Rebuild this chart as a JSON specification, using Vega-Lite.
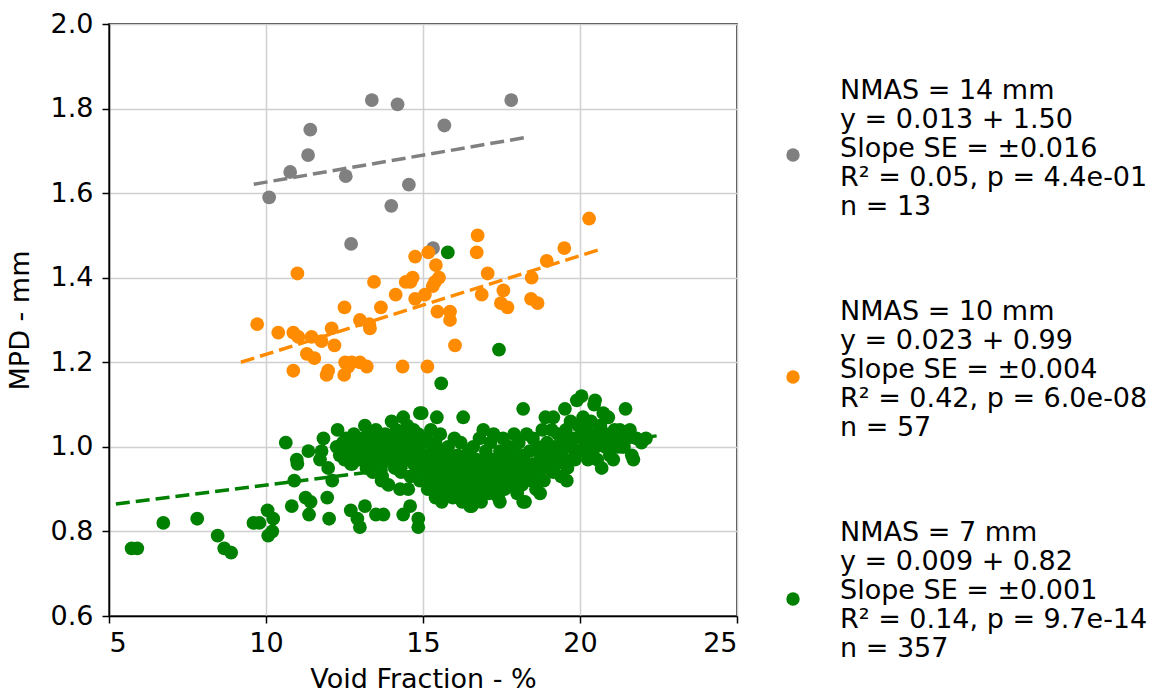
{
  "$schema": "https://vega.github.io/schema/vega-lite/v6.json",
  "width": 628,
  "height": 592,
  "autosize": {"type": "none"},
  "padding": {"left": 109, "top": 24, "right": 414, "bottom": 77},
  "background": "white",
  "config": {
    "font": "DejaVu Sans",
    "view": {"stroke": "black", "strokeWidth": 1.5},
    "axis": {
      "labelFont": "DejaVu Sans", "labelFontSize": 27, "labelColor": "black",
      "titleFont": "DejaVu Sans", "titleFontSize": 27, "titleFontWeight": "normal", "titleColor": "black",
      "tickColor": "black", "tickSize": 7, "tickWidth": 1.5,
      "domainColor": "black", "domainWidth": 1.5,
      "gridColor": "#d0d0d0", "gridWidth": 1.5
    },
    "legend": {"labelFont": "DejaVu Sans", "labelFontSize": 27, "labelColor": "black"}
  },
  "datasets": {
    "pts": [
      {"g":"14","x":10.10,"y":1.59},{"g":"14","x":10.77,"y":1.65},{"g":"14","x":11.34,"y":1.69},{"g":"14","x":11.41,"y":1.75},{"g":"14","x":12.54,"y":1.64},{"g":"14","x":13.37,"y":1.82},{"g":"14","x":14.19,"y":1.81},{"g":"14","x":12.71,"y":1.48},{"g":"14","x":13.99,"y":1.57},{"g":"14","x":14.55,"y":1.62},{"g":"14","x":15.68,"y":1.76},{"g":"14","x":17.81,"y":1.82},{"g":"14","x":15.32,"y":1.47},
      {"g":"10","x":11.00,"y":1.41},{"g":"10","x":9.72,"y":1.29},{"g":"10","x":10.39,"y":1.27},{"g":"10","x":10.87,"y":1.27},{"g":"10","x":11.03,"y":1.26},{"g":"10","x":11.45,"y":1.26},{"g":"10","x":11.77,"y":1.25},{"g":"10","x":12.09,"y":1.28},{"g":"10","x":12.18,"y":1.24},{"g":"10","x":11.30,"y":1.22},{"g":"10","x":11.54,"y":1.21},{"g":"10","x":10.87,"y":1.18},{"g":"10","x":11.98,"y":1.18},{"g":"10","x":11.93,"y":1.17},{"g":"10","x":12.50,"y":1.33},{"g":"10","x":12.99,"y":1.30},{"g":"10","x":13.29,"y":1.29},{"g":"10","x":13.31,"y":1.28},{"g":"10","x":12.52,"y":1.20},{"g":"10","x":12.73,"y":1.20},{"g":"10","x":12.99,"y":1.20},{"g":"10","x":13.21,"y":1.19},{"g":"10","x":12.49,"y":1.17},{"g":"10","x":13.44,"y":1.39},{"g":"10","x":13.66,"y":1.33},{"g":"10","x":14.13,"y":1.36},{"g":"10","x":14.45,"y":1.39},{"g":"10","x":14.67,"y":1.40},{"g":"10","x":14.75,"y":1.45},{"g":"10","x":14.75,"y":1.35},{"g":"10","x":14.35,"y":1.19},
      {"g":"10","x":20.29,"y":1.54},{"g":"10","x":16.74,"y":1.50},{"g":"10","x":16.71,"y":1.46},{"g":"10","x":15.17,"y":1.46},{"g":"10","x":15.41,"y":1.43},{"g":"10","x":15.51,"y":1.40},{"g":"10","x":15.31,"y":1.38},{"g":"10","x":15.06,"y":1.36},{"g":"10","x":15.46,"y":1.32},{"g":"10","x":15.86,"y":1.32},{"g":"10","x":15.86,"y":1.30},{"g":"10","x":16.02,"y":1.24},{"g":"10","x":15.14,"y":1.19},{"g":"10","x":17.06,"y":1.41},{"g":"10","x":16.87,"y":1.36},{"g":"10","x":17.56,"y":1.37},{"g":"10","x":17.48,"y":1.34},{"g":"10","x":17.69,"y":1.33},{"g":"10","x":18.46,"y":1.40},{"g":"10","x":18.44,"y":1.35},{"g":"10","x":18.65,"y":1.34},{"g":"10","x":18.94,"y":1.44},{"g":"10","x":19.50,"y":1.47},{"g":"10","x":12.62,"y":1.19},{"g":"10","x":15.38,"y":1.39},{"g":"10","x":14.60,"y":1.39},
      {"g":"7","x":15.79,"y":1.46},{"g":"7","x":17.42,"y":1.23},{"g":"7","x":15.58,"y":1.15},
      {"g":"7","x":5.72,"y":0.76},{"g":"7","x":5.90,"y":0.76},{"g":"7","x":6.73,"y":0.82},{"g":"7","x":7.81,"y":0.83},{"g":"7","x":8.46,"y":0.79},{"g":"7","x":8.67,"y":0.76},{"g":"7","x":8.89,"y":0.75},{"g":"7","x":9.60,"y":0.82},{"g":"7","x":9.79,"y":0.82},{"g":"7","x":10.05,"y":0.85},{"g":"7","x":10.23,"y":0.83},{"g":"7","x":10.07,"y":0.79},{"g":"7","x":10.20,"y":0.80},{"g":"7","x":10.63,"y":1.01},{"g":"7","x":10.82,"y":0.86},{"g":"7","x":10.90,"y":0.92},{"g":"7","x":10.98,"y":0.97},{"g":"7","x":11.00,"y":0.96},{"g":"7","x":11.26,"y":0.88},{"g":"7","x":11.42,"y":0.87},{"g":"7","x":11.37,"y":0.84},{"g":"7","x":11.35,"y":0.99},{"g":"7","x":11.72,"y":0.97},{"g":"7","x":11.83,"y":1.02},{"g":"7","x":11.98,"y":0.95},{"g":"7","x":12.11,"y":0.92},{"g":"7","x":11.95,"y":0.88},{"g":"7","x":12.01,"y":0.83},{"g":"7","x":11.77,"y":0.99},{"g":"7","x":12.28,"y":1.04},{"g":"7","x":12.52,"y":1.01},{"g":"7","x":12.70,"y":0.96},{"g":"7","x":12.70,"y":0.85},{"g":"7","x":12.91,"y":0.83},{"g":"7","x":12.99,"y":0.81},{"g":"7","x":13.15,"y":0.86},{"g":"7","x":13.50,"y":0.84},{"g":"7","x":13.74,"y":0.84},{"g":"7","x":13.15,"y":1.05},{"g":"7","x":13.68,"y":0.92},{"g":"7","x":13.90,"y":0.91},{"g":"7","x":14.27,"y":0.90},{"g":"7","x":14.53,"y":0.90},{"g":"7","x":14.37,"y":0.84},{"g":"7","x":14.59,"y":0.86},{"g":"7","x":14.85,"y":0.83},{"g":"7","x":14.85,"y":0.81},{"g":"7","x":14.96,"y":1.08},{"g":"7","x":15.44,"y":1.07},{"g":"7","x":16.28,"y":1.07},{"g":"7","x":16.92,"y":1.04},{"g":"7","x":18.19,"y":1.09},{"g":"7","x":19.52,"y":1.09},{"g":"7","x":20.05,"y":1.12},{"g":"7","x":20.48,"y":1.11},{"g":"7","x":21.45,"y":1.09},{"g":"7","x":21.27,"y":1.04},{"g":"7","x":21.59,"y":1.04},{"g":"7","x":21.70,"y":0.97},{"g":"7","x":21.06,"y":0.97},{"g":"7","x":20.69,"y":0.95},{"g":"7","x":16.55,"y":0.86},{"g":"7","x":17.45,"y":0.87},{"g":"7","x":18.19,"y":0.87},{"g":"7","x":18.73,"y":0.89},{"g":"7","x":19.58,"y":0.92},{"g":"7","x":19.84,"y":0.97},
      {"g":"7","x":12.25,"y":1.00},{"g":"7","x":12.35,"y":0.98},{"g":"7","x":12.45,"y":1.01},{"g":"7","x":12.50,"y":0.97},{"g":"7","x":12.55,"y":1.02},{"g":"7","x":12.60,"y":0.99},{"g":"7","x":12.70,"y":1.00},{"g":"7","x":12.75,"y":0.96},{"g":"7","x":12.80,"y":1.03},{"g":"7","x":12.85,"y":0.99},{"g":"7","x":12.90,"y":1.01},{"g":"7","x":12.95,"y":0.97},{"g":"7","x":13.00,"y":1.00},
      {"g":"7","x":13.05,"y":1.02},{"g":"7","x":13.10,"y":0.98},{"g":"7","x":13.20,"y":1.00},{"g":"7","x":13.25,"y":0.96},{"g":"7","x":13.30,"y":1.03},{"g":"7","x":13.35,"y":0.99},{"g":"7","x":13.40,"y":1.01},{"g":"7","x":13.45,"y":0.97},{"g":"7","x":13.50,"y":1.04},{"g":"7","x":13.55,"y":1.00},{"g":"7","x":13.60,"y":0.98},{"g":"7","x":13.65,"y":1.02},{"g":"7","x":13.70,"y":0.96},{"g":"7","x":13.75,"y":1.01},{"g":"7","x":13.80,"y":1.03},{"g":"7","x":13.85,"y":0.99},{"g":"7","x":13.90,"y":1.00},{"g":"7","x":13.95,"y":0.97},{"g":"7","x":14.00,"y":1.06},{"g":"7","x":13.40,"y":0.94},{"g":"7","x":13.70,"y":0.93},{"g":"7","x":13.20,"y":0.95},
      {"g":"7","x":14.05,"y":1.02},{"g":"7","x":14.10,"y":0.99},{"g":"7","x":14.15,"y":1.04},{"g":"7","x":14.20,"y":1.00},{"g":"7","x":14.25,"y":0.96},{"g":"7","x":14.30,"y":1.03},{"g":"7","x":14.37,"y":1.07},{"g":"7","x":14.40,"y":0.98},{"g":"7","x":14.45,"y":1.01},{"g":"7","x":14.50,"y":1.05},{"g":"7","x":14.55,"y":0.97},{"g":"7","x":14.60,"y":1.02},{"g":"7","x":14.65,"y":0.99},{"g":"7","x":14.70,"y":1.04},{"g":"7","x":14.75,"y":1.00},{"g":"7","x":14.80,"y":0.95},{"g":"7","x":14.85,"y":1.03},{"g":"7","x":14.90,"y":1.08},{"g":"7","x":14.95,"y":0.98},{"g":"7","x":15.00,"y":1.01},{"g":"7","x":14.30,"y":0.94},{"g":"7","x":14.60,"y":0.93},{"g":"7","x":14.90,"y":0.92},{"g":"7","x":14.10,"y":0.95},{"g":"7","x":14.70,"y":0.96},
      {"g":"7","x":15.05,"y":0.98},{"g":"7","x":15.10,"y":0.94},{"g":"7","x":15.10,"y":1.02},{"g":"7","x":15.15,"y":0.90},{"g":"7","x":15.20,"y":0.97},{"g":"7","x":15.25,"y":1.04},{"g":"7","x":15.30,"y":0.92},{"g":"7","x":15.30,"y":0.99},{"g":"7","x":15.35,"y":0.95},{"g":"7","x":15.40,"y":0.88},{"g":"7","x":15.40,"y":1.01},{"g":"7","x":15.45,"y":0.93},{"g":"7","x":15.50,"y":0.97},{"g":"7","x":15.50,"y":0.90},{"g":"7","x":15.55,"y":1.03},{"g":"7","x":15.60,"y":0.95},{"g":"7","x":15.60,"y":0.87},{"g":"7","x":15.65,"y":0.99},{"g":"7","x":15.70,"y":0.92},{"g":"7","x":15.75,"y":0.96},{"g":"7","x":15.75,"y":0.89},{"g":"7","x":15.80,"y":1.00},{"g":"7","x":15.85,"y":0.94},{"g":"7","x":15.90,"y":0.91},{"g":"7","x":15.90,"y":0.97},{"g":"7","x":15.95,"y":0.88},{"g":"7","x":16.00,"y":0.95},{"g":"7","x":16.00,"y":1.02},
      {"g":"7","x":16.05,"y":0.92},{"g":"7","x":16.10,"y":0.98},{"g":"7","x":16.10,"y":0.89},{"g":"7","x":16.15,"y":0.95},{"g":"7","x":16.20,"y":1.01},{"g":"7","x":16.25,"y":0.93},{"g":"7","x":16.25,"y":0.87},{"g":"7","x":16.30,"y":0.97},{"g":"7","x":16.35,"y":0.90},{"g":"7","x":16.40,"y":0.95},{"g":"7","x":16.45,"y":0.99},{"g":"7","x":16.50,"y":0.92},{"g":"7","x":16.50,"y":0.86},{"g":"7","x":16.55,"y":0.96},{"g":"7","x":16.60,"y":0.89},{"g":"7","x":16.60,"y":1.00},{"g":"7","x":16.65,"y":0.93},{"g":"7","x":16.70,"y":0.97},{"g":"7","x":16.75,"y":0.90},{"g":"7","x":16.80,"y":1.02},{"g":"7","x":16.80,"y":0.94},{"g":"7","x":16.85,"y":0.87},{"g":"7","x":16.90,"y":0.96},{"g":"7","x":16.95,"y":0.91},{"g":"7","x":17.00,"y":0.99},{"g":"7","x":17.00,"y":0.93},
      {"g":"7","x":17.05,"y":0.96},{"g":"7","x":17.10,"y":0.89},{"g":"7","x":17.15,"y":1.01},{"g":"7","x":17.20,"y":0.93},{"g":"7","x":17.25,"y":0.97},{"g":"7","x":17.25,"y":1.03},{"g":"7","x":17.30,"y":0.90},{"g":"7","x":17.35,"y":0.95},{"g":"7","x":17.40,"y":0.88},{"g":"7","x":17.45,"y":0.99},{"g":"7","x":17.50,"y":0.93},{"g":"7","x":17.55,"y":1.02},{"g":"7","x":17.60,"y":0.96},{"g":"7","x":17.60,"y":0.90},{"g":"7","x":17.65,"y":0.98},{"g":"7","x":17.70,"y":0.94},{"g":"7","x":17.75,"y":1.00},{"g":"7","x":17.80,"y":0.91},{"g":"7","x":17.85,"y":0.96},{"g":"7","x":17.90,"y":1.03},{"g":"7","x":17.95,"y":0.93},{"g":"7","x":18.00,"y":0.98},{"g":"7","x":18.00,"y":0.89},
      {"g":"7","x":18.05,"y":1.01},{"g":"7","x":18.10,"y":0.95},{"g":"7","x":18.15,"y":0.91},{"g":"7","x":18.20,"y":0.98},{"g":"7","x":18.25,"y":0.87},{"g":"7","x":18.30,"y":1.03},{"g":"7","x":18.35,"y":0.94},{"g":"7","x":18.40,"y":0.99},{"g":"7","x":18.45,"y":0.92},{"g":"7","x":18.50,"y":1.02},{"g":"7","x":18.55,"y":0.96},{"g":"7","x":18.60,"y":0.90},{"g":"7","x":18.65,"y":1.00},{"g":"7","x":18.70,"y":0.94},{"g":"7","x":18.75,"y":0.98},{"g":"7","x":18.80,"y":1.04},{"g":"7","x":18.85,"y":0.92},{"g":"7","x":18.90,"y":0.97},{"g":"7","x":18.90,"y":1.07},{"g":"7","x":18.95,"y":1.01},{"g":"7","x":19.00,"y":0.95},
      {"g":"7","x":19.05,"y":0.99},{"g":"7","x":19.10,"y":1.04},{"g":"7","x":19.15,"y":0.94},{"g":"7","x":19.15,"y":1.07},{"g":"7","x":19.20,"y":1.00},{"g":"7","x":19.25,"y":0.96},{"g":"7","x":19.30,"y":1.03},{"g":"7","x":19.35,"y":0.98},{"g":"7","x":19.40,"y":0.93},{"g":"7","x":19.45,"y":1.01},{"g":"7","x":19.50,"y":0.97},{"g":"7","x":19.55,"y":1.04},{"g":"7","x":19.60,"y":0.95},{"g":"7","x":19.65,"y":1.00},{"g":"7","x":19.70,"y":1.06},{"g":"7","x":19.75,"y":0.97},{"g":"7","x":19.80,"y":1.02},{"g":"7","x":19.85,"y":0.99},{"g":"7","x":19.90,"y":1.11},
      {"g":"7","x":19.95,"y":1.05},{"g":"7","x":20.00,"y":0.99},{"g":"7","x":20.05,"y":1.03},{"g":"7","x":20.10,"y":1.07},{"g":"7","x":20.15,"y":1.00},{"g":"7","x":20.20,"y":1.04},{"g":"7","x":20.25,"y":0.97},{"g":"7","x":20.30,"y":1.02},{"g":"7","x":20.35,"y":1.06},{"g":"7","x":20.40,"y":0.99},{"g":"7","x":20.45,"y":1.10},{"g":"7","x":20.50,"y":1.03},{"g":"7","x":20.55,"y":0.97},{"g":"7","x":20.60,"y":1.01},{"g":"7","x":20.65,"y":1.05},{"g":"7","x":20.74,"y":1.08},{"g":"7","x":20.80,"y":1.00},{"g":"7","x":20.85,"y":1.03},{"g":"7","x":20.90,"y":1.07},{"g":"7","x":20.95,"y":0.98},{"g":"7","x":21.00,"y":1.02},{"g":"7","x":21.10,"y":1.04},{"g":"7","x":21.20,"y":1.00},{"g":"7","x":21.33,"y":1.00},{"g":"7","x":21.50,"y":1.02},{"g":"7","x":21.65,"y":0.98},{"g":"7","x":21.80,"y":1.02},{"g":"7","x":21.96,"y":1.01},{"g":"7","x":22.10,"y":1.02},
      {"g":"7","x":12.40,"y":1.00},{"g":"7","x":12.65,"y":1.02},{"g":"7","x":13.10,"y":1.00},{"g":"7","x":13.45,"y":1.00},{"g":"7","x":13.60,"y":1.01},{"g":"7","x":13.85,"y":1.02},{"g":"7","x":14.05,"y":0.98},{"g":"7","x":14.20,"y":1.02},{"g":"7","x":14.40,"y":1.00},{"g":"7","x":14.55,"y":1.01},{"g":"7","x":14.80,"y":0.99},{"g":"7","x":15.00,"y":0.97},{"g":"7","x":13.30,"y":0.97},{"g":"7","x":12.90,"y":0.98},{"g":"7","x":14.15,"y":0.97},
      {"g":"7","x":15.20,"y":0.93},{"g":"7","x":15.35,"y":0.91},{"g":"7","x":15.45,"y":0.96},{"g":"7","x":15.60,"y":0.92},{"g":"7","x":15.70,"y":0.89},{"g":"7","x":15.80,"y":0.93},{"g":"7","x":15.95,"y":0.92},{"g":"7","x":16.05,"y":0.96},{"g":"7","x":16.15,"y":0.90},{"g":"7","x":16.20,"y":0.94},{"g":"7","x":16.35,"y":0.93},{"g":"7","x":16.40,"y":0.91},{"g":"7","x":16.45,"y":0.88},{"g":"7","x":16.55,"y":0.92},{"g":"7","x":16.65,"y":0.90},{"g":"7","x":16.70,"y":0.94},{"g":"7","x":16.85,"y":0.93},{"g":"7","x":16.90,"y":0.89},{"g":"7","x":17.05,"y":0.91},{"g":"7","x":17.15,"y":0.94},{"g":"7","x":17.30,"y":0.96},{"g":"7","x":17.40,"y":0.92},{"g":"7","x":17.50,"y":0.96},{"g":"7","x":17.70,"y":0.91},{"g":"7","x":17.85,"y":0.93},{"g":"7","x":18.10,"y":0.93},{"g":"7","x":18.30,"y":0.96},{"g":"7","x":18.50,"y":0.94},{"g":"7","x":18.70,"y":0.96},{"g":"7","x":19.20,"y":0.97},{"g":"7","x":19.40,"y":0.98},{"g":"7","x":19.60,"y":1.01},
      {"g":"7","x":20.10,"y":1.02},{"g":"7","x":20.30,"y":1.00},{"g":"7","x":20.50,"y":1.00},{"g":"7","x":20.70,"y":1.02},{"g":"7","x":20.90,"y":1.01},{"g":"7","x":21.15,"y":1.02},{"g":"7","x":21.40,"y":1.00},{"g":"7","x":21.55,"y":1.03}
    ],
    "fits": [
      {"g":"L14","x":9.61,"y":1.621},{"g":"L14","x":18.30,"y":1.732},
      {"g":"L10","x":9.20,"y":1.200},{"g":"L10","x":20.64,"y":1.467},
      {"g":"L7","x":5.22,"y":0.865},{"g":"L7","x":22.44,"y":1.026}
    ]
  },
  "layer": [
    {
      "data": {"name": "pts"},
      "mark": {"type": "circle", "size": 190, "opacity": 1},
      "encoding": {
        "x": {"field": "x", "type": "quantitative", "scale": {"domain": [5, 25], "nice": false}, "axis": {"values": [5, 10, 15, 20, 25], "title": "Void Fraction - %", "titlePadding": 10, "labelPadding": 7}},
        "y": {"field": "y", "type": "quantitative", "scale": {"domain": [0.6, 2.0], "nice": false}, "axis": {"values": [0.6, 0.8, 1.0, 1.2, 1.4, 1.6, 1.8, 2.0], "format": ".1f", "title": "MPD - mm", "titlePadding": 16, "labelPadding": 9}},
        "color": {
          "field": "g", "type": "nominal",
          "scale": {"domain": ["14", "10", "7"], "range": ["#808080", "#ff8c00", "#008000"]},
          "legend": {
            "orient": "none", "legendX": 677, "legendY": 124, "title": null,
            "symbolType": "circle", "symbolSize": 180, "symbolStrokeWidth": 0,
            "labelExpr": "' '", "labelFontSize": 12, "rowPadding": 208, "padding": 0
          }
        }
      }
    },
    {
      "data": {"name": "fits"},
      "mark": {"type": "line", "strokeWidth": 3.5, "strokeDash": [14, 6]},
      "encoding": {
        "x": {"field": "x", "type": "quantitative"},
        "y": {"field": "y", "type": "quantitative"},
        "detail": {"field": "g", "type": "nominal"},
        "stroke": {
          "field": "g", "type": "nominal",
          "scale": {"domain": ["L14", "L10", "L7"], "range": ["#808080", "#ff8c00", "#008000"]},
          "legend": {
            "orient": "none", "legendX": 668, "legendY": 53, "title": null,
            "symbolType": "circle", "symbolSize": 150, "symbolOpacity": 0, "symbolStrokeWidth": 0,
            "labelOffset": 36, "labelLimit": 0, "rowPadding": 77, "padding": 0,
            "labelExpr": "datum.value == 'L14' ? ['NMAS = 14 mm', 'y = 0.013 + 1.50', 'Slope SE = ±0.016', 'R² = 0.05, p = 4.4e-01', 'n = 13'] : datum.value == 'L10' ? ['NMAS = 10 mm', 'y = 0.023 + 0.99', 'Slope SE = ±0.004', 'R² = 0.42, p = 6.0e-08', 'n = 57'] : ['NMAS = 7 mm', 'y = 0.009 + 0.82', 'Slope SE = ±0.001', 'R² = 0.14, p = 9.7e-14', 'n = 357']"
          }
        }
      }
    }
  ]
}
